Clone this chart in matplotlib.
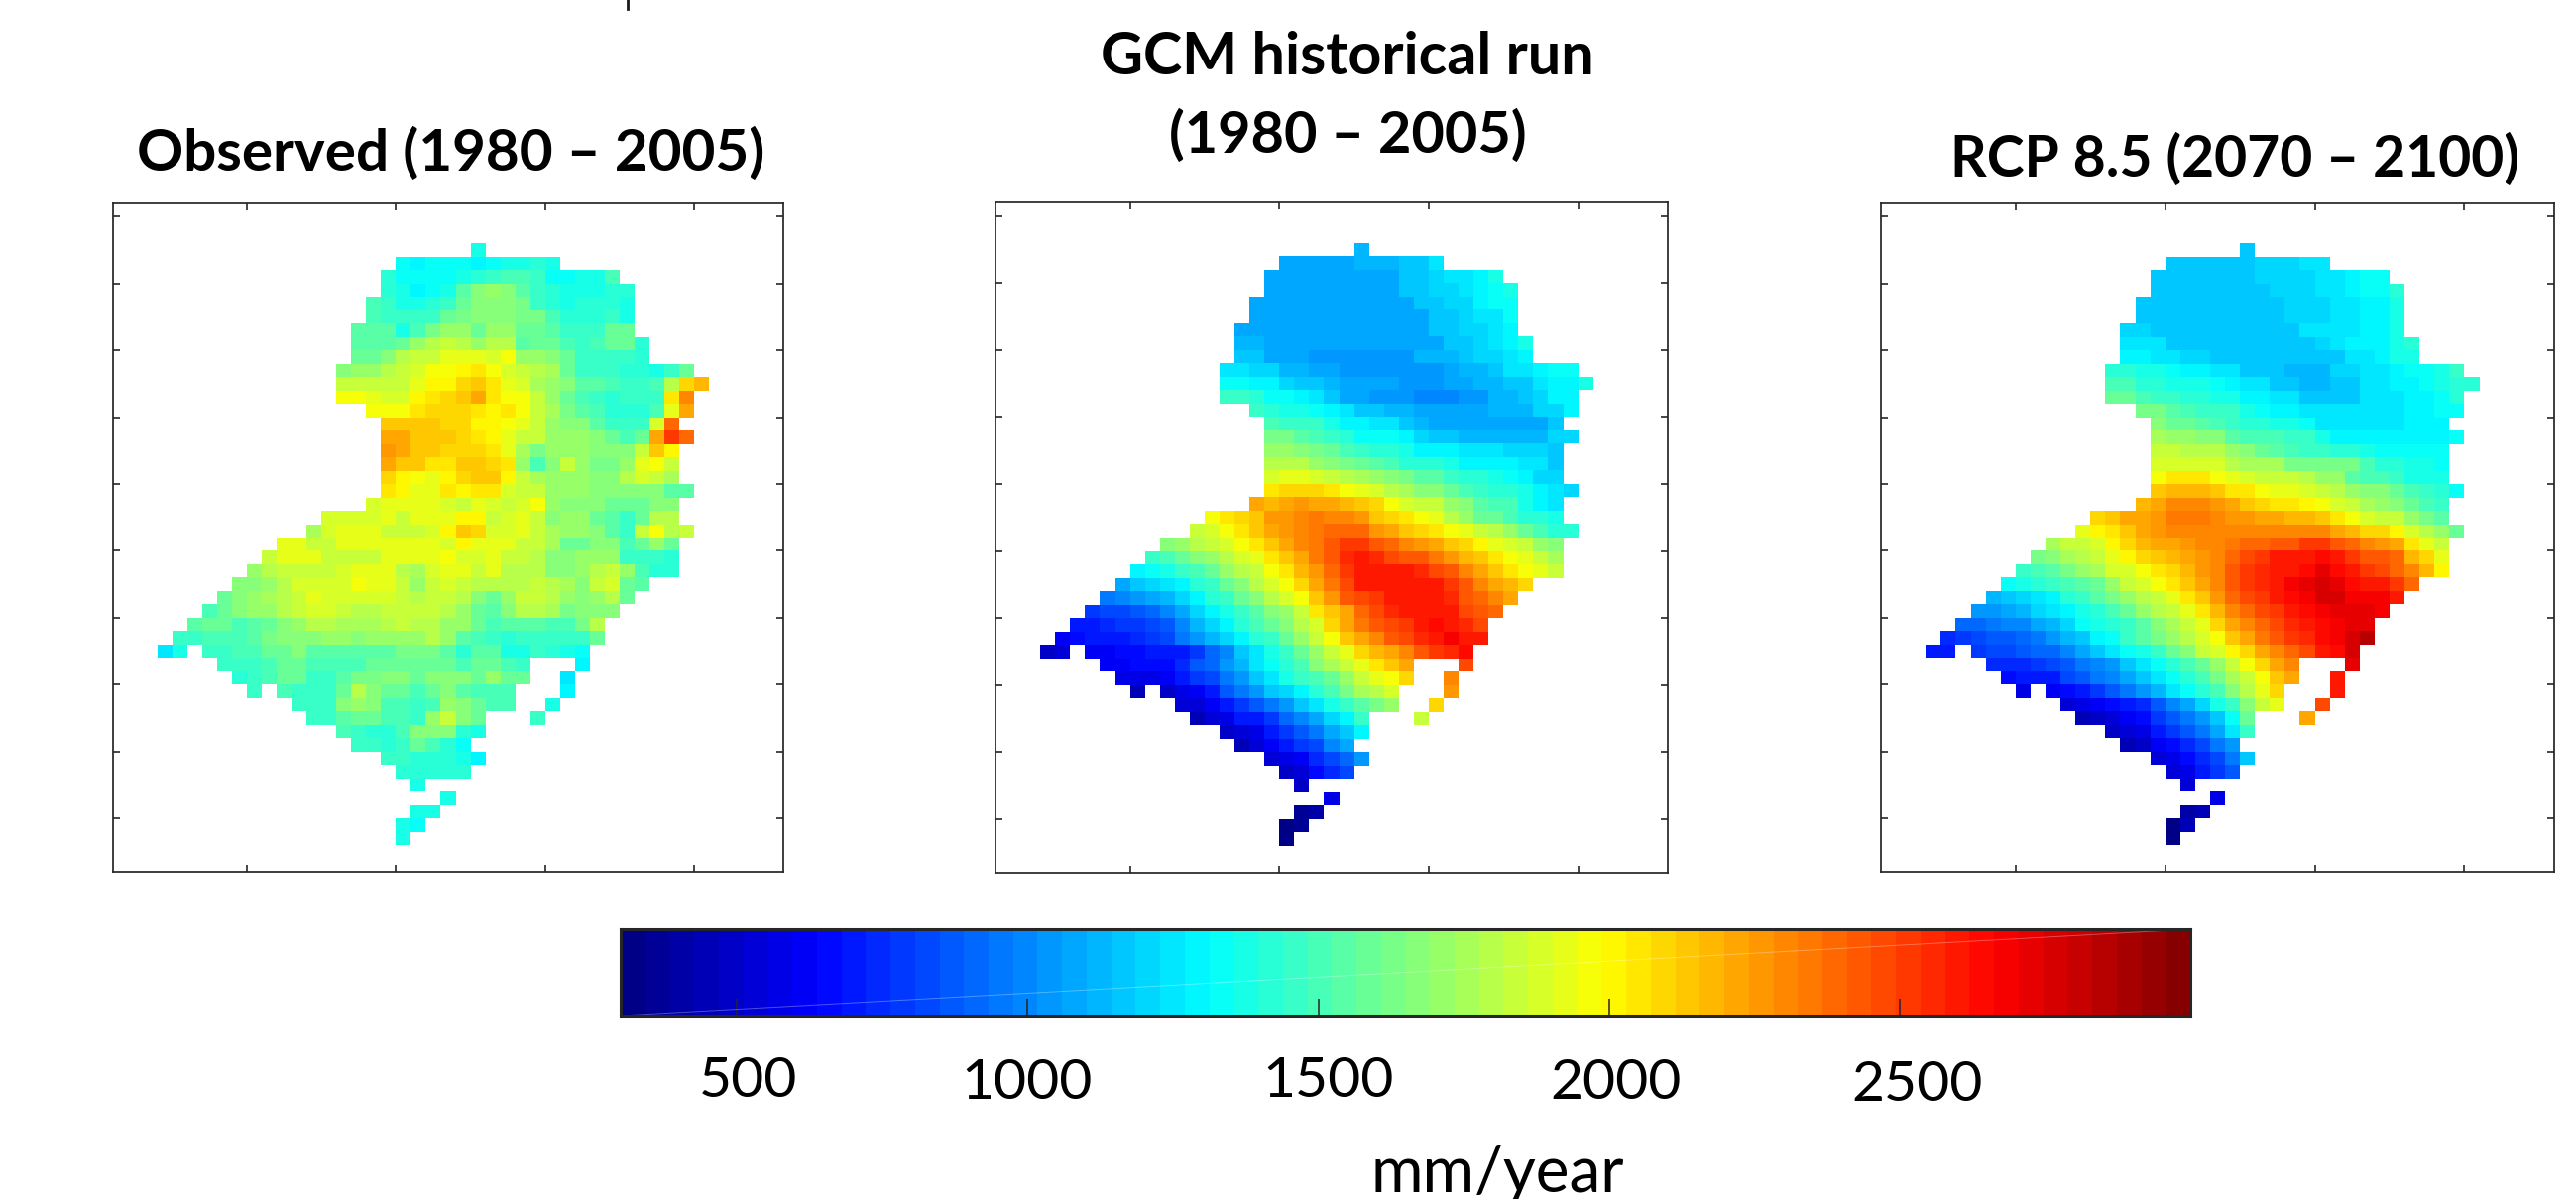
import numpy as np
import matplotlib
matplotlib.use('Agg')
import matplotlib.pyplot as plt
from matplotlib.colors import ListedColormap
from matplotlib.lines import Line2D

plt.rcParams['font.family'] = ['Lato', 'DejaVu Sans']

W, H = 2598, 1209
n = None

#%% data: rainfall in tens of mm/year, one list per grid row, starting at row 3
first_col = [24,19,18,18,17,17,16,16,16,15,15,15,17,18,18,18,18,18,18,17,14,13,11,10,9,8,7,6,5,4,3,7,8,9,12,13,15,16,18,19,20,22,20,19,19]

observed = [
[139],
[132,131,133,134,133,131,133,136,139,140,137],
[140,133,132,132,133,136,140,145,152,152,146,134,133,137,138,152],
[140,136,131,134,139,155,165,172,165,155,148,141,136,136,138,142,143],
[152,145,138,138,141,146,160,166,166,166,163,148,142,138,143,143,143,137],
[152,148,146,146,146,158,164,166,166,166,163,163,150,143,142,142,148,139],
[154,154,154,139,150,163,170,170,160,172,172,158,158,154,148,146,146,158,158],
[154,154,154,160,172,178,184,178,172,180,180,154,160,160,150,145,152,160,160,143],
[160,160,165,178,185,185,193,193,193,188,195,170,170,168,160,148,147,147,147,140],
[165,172,172,178,186,190,196,196,200,206,196,188,186,178,174,160,148,147,147,140,140,136,146,160],
[186,186,186,186,186,194,200,200,211,215,206,194,190,176,172,166,155,155,150,145,145,150,180,208,217],
[198,198,194,190,190,200,206,208,215,220,206,196,196,182,172,160,150,144,140,145,145,146,206,232],
[198,198,198,205,210,210,210,206,200,205,196,184,176,163,155,150,143,140,140,152,192,224],
[213,213,213,213,208,208,200,200,198,192,186,170,168,168,155,148,148,148,188,240],
[222,222,213,213,212,210,205,199,192,186,183,170,170,170,165,158,152,160,224,253,240],
[228,224,213,213,208,208,208,204,192,176,162,173,173,170,165,165,165,184,215,202],
[222,215,212,206,206,212,212,208,204,172,152,165,182,170,164,164,172,192,196,185],
[208,202,198,194,199,208,213,213,202,186,176,172,172,172,165,165,178,188,184,176],
[206,200,194,192,204,199,206,206,188,184,184,170,170,170,165,165,165,165,165,155,155],
[188,194,194,194,194,188,184,194,188,184,190,196,170,165,165,165,160,160,160,168,168],
[188,188,188,188,194,186,192,192,193,200,200,182,188,193,186,168,170,170,160,155,147,160,180,180],
[174,190,192,192,192,186,184,184,188,200,215,208,188,188,194,186,176,170,170,168,155,148,182,196,180,186],
[194,194,184,184,192,192,192,192,192,192,192,190,200,192,192,192,186,184,174,157,157,165,165,150,160,170,158],
[186,194,194,194,186,186,186,186,193,193,193,193,198,190,190,192,184,182,178,168,165,172,172,170,148,146,144,140],
[172,178,184,186,186,182,188,194,194,194,180,176,188,192,192,186,194,178,178,178,168,165,172,178,182,172,150,143,143],
[165,168,173,180,188,188,188,188,196,192,192,184,172,186,190,184,180,180,178,178,186,178,175,165,182,190,160,155],
[160,165,170,174,178,186,192,188,190,190,190,190,184,180,186,186,178,165,160,170,184,186,178,172,165,172,180,160],
[150,160,166,170,172,178,184,190,190,184,178,178,184,184,186,182,180,172,160,155,165,178,178,174,162,168,168,168],
[155,158,160,152,154,158,168,170,178,178,176,176,176,180,186,180,180,172,170,158,152,155,155,155,150,150,162,178],
[144,144,150,152,152,156,162,165,165,165,170,172,165,172,172,172,172,178,170,155,150,148,143,148,148,148,148,148,160],
[127,136,n,145,148,152,152,158,158,165,156,156,156,156,156,156,162,162,162,155,142,155,155,138,138,144,140,136,134],
[146,148,148,152,160,160,152,152,152,152,160,160,160,160,160,160,152,160,160,150,144,n,n,n,131],
[143,146,152,160,160,145,145,156,162,162,168,168,160,168,168,168,158,170,158,158,n,n,125],
[146,n,150,146,146,146,160,178,165,157,157,150,160,165,155,150,150,150,n,n,n,128],
[146,146,146,165,172,165,150,150,145,152,172,165,158,152,152,n,n,137],
[146,146,155,160,160,152,152,148,172,186,165,158,n,n,n,147],
[152,148,143,143,150,165,165,165,142,138],
[148,148,140,148,158,150,142,135],
[148,148,141,141,141,136,130],
[142,140,140,143,143],
[138],
[138],
[136,136],
[136,134],
[137],
]

gcm_hist = [
[111],
[107,107,107,107,107,111,111,111,117,117,123],
[107,107,107,107,107,107,107,110,110,115,115,120,127,127,131,137],
[107,107,107,107,107,107,107,110,110,115,115,120,122,126,131,133,136],
[107,107,107,107,107,107,107,107,110,110,110,117,117,122,122,128,132,135],
[107,107,107,107,107,107,107,107,107,109,109,109,117,117,122,127,127,132],
[109,106,106,106,106,106,106,106,106,106,108,108,108,115,115,120,120,127,131],
[112,112,106,106,106,106,106,106,106,106,106,110,110,110,115,115,119,126,130,136],
[116,116,110,110,110,105,105,105,105,105,105,105,111,111,111,115,121,121,124,129],
[126,126,122,122,113,113,107,107,104,104,104,104,104,104,104,106,112,112,118,125,125,131,134,134],
[135,135,130,130,122,118,118,112,107,107,107,107,102,102,102,106,106,113,113,118,118,124,130,130,136],
[146,146,140,135,135,130,124,115,110,110,104,104,104,100,100,100,104,104,111,111,116,122,128,128],
[148,142,138,138,134,130,126,118,118,112,112,108,108,108,108,108,112,112,113,120,120,128],
[152,145,145,145,138,130,130,123,123,116,112,108,108,107,107,107,110,110,110,115],
[162,162,155,152,146,140,135,133,133,130,122,118,118,112,112,112,112,112,112,122,122],
[172,172,166,162,158,152,148,143,143,139,130,130,130,126,126,126,120,120,120,118],
[178,178,178,172,168,163,160,155,150,143,140,140,136,131,131,130,130,123,123,118],
[190,194,194,190,186,180,176,172,168,163,154,154,148,142,142,136,133,128,122,122],
[206,210,210,210,203,198,192,188,180,176,168,168,160,150,145,140,140,136,128,125,120],
[220,218,223,226,222,222,218,212,208,198,190,182,182,172,165,155,150,150,139,130,127],
[198,204,210,215,225,228,232,234,231,231,226,214,210,203,198,192,180,172,160,160,150,140,140,136],
[186,190,198,205,215,220,228,232,234,240,240,240,228,222,214,210,205,198,192,184,178,170,160,150,143,140],
[165,170,178,182,190,195,205,215,222,230,234,242,250,250,244,240,232,228,220,215,208,202,192,190,182,172,165],
[148,152,160,165,172,180,188,194,204,212,220,234,244,254,260,254,248,242,242,236,228,218,213,205,198,192,182,176],
[130,135,138,148,152,160,170,178,186,196,205,218,226,240,252,262,258,258,258,254,248,242,232,222,214,206,198,192,182],
[110,116,122,124,130,140,148,158,165,178,190,196,208,220,235,248,258,258,258,258,258,258,252,242,232,222,218,208],
[95,100,105,107,112,120,130,140,148,158,168,178,188,198,212,226,242,248,252,258,258,258,258,256,244,240,232,222],
[78,82,84,88,92,98,110,120,130,138,148,155,165,172,186,205,215,224,240,248,255,260,260,260,260,248,245,240],
[68,72,76,78,80,84,88,100,112,122,130,142,150,158,168,178,190,208,222,234,244,248,252,262,266,262,255,248],
[62,66,70,70,72,75,80,82,95,105,112,122,130,140,148,158,170,184,198,213,224,232,242,248,256,260,268,260,260],
[50,52,n,62,62,65,65,68,68,72,80,90,100,115,125,138,148,158,172,182,192,208,216,224,232,244,250,256,264],
[62,62,65,65,65,75,85,92,102,112,124,134,142,152,165,175,182,192,206,214,222,n,n,n,248],
[56,56,58,60,68,78,84,95,105,118,126,136,145,152,160,172,182,192,198,208,n,n,232],
[45,n,50,58,62,72,85,94,104,116,122,130,140,152,164,174,180,188,n,n,n,226],
[52,54,60,68,78,85,96,104,116,124,136,144,155,164,172,n,n,208],
[46,55,58,68,72,80,92,98,108,122,131,146,n,n,n,186],
[48,52,58,72,78,85,95,108,118,130],
[45,54,60,70,78,84,98,106],
[52,56,62,74,82,92,104],
[50,55,64,76,84],
[50],
[56],
[37,42],
[32,36],
[32],
]

rcp85 = [
[117],
[118,118,118,118,118,118,122,122,122,127,127],
[118,118,118,118,118,118,118,121,121,121,121,126,126,131,134,134],
[118,118,118,118,118,118,118,118,122,122,122,126,126,129,132,132,140],
[118,118,118,118,118,118,118,118,118,118,122,122,122,124,126,131,131,137],
[118,118,118,118,118,118,118,118,118,118,122,122,122,123,126,131,131,136],
[122,122,117,117,117,117,117,117,117,117,117,117,123,123,123,126,131,131,136],
[123,123,123,117,117,117,117,117,117,117,117,117,117,122,124,129,129,131,136,142],
[131,131,126,126,122,122,115,115,115,115,115,115,115,115,118,127,127,130,136,136],
[142,142,138,138,135,131,131,126,126,118,118,118,114,114,114,120,120,126,126,130,134,134,138,144],
[150,150,142,142,138,136,136,132,128,124,124,118,118,112,112,118,118,124,124,131,130,135,137,140,142],
[160,160,152,148,146,140,140,138,136,131,131,124,124,118,118,118,118,124,124,127,131,131,135,140],
[162,162,155,150,146,146,144,138,135,130,130,124,124,124,124,124,124,124,130,130,134,134],
[165,160,160,155,150,145,142,142,136,136,132,124,124,124,124,124,124,129,129,129],
[175,172,172,165,165,155,150,150,150,144,144,138,130,130,129,129,129,129,129,129,135],
[185,185,178,178,178,172,165,160,155,150,148,148,142,142,138,134,134,134,134,134],
[190,190,190,190,190,178,176,176,176,163,163,163,163,163,150,142,142,138,138,135],
[198,203,203,203,198,192,188,184,182,182,178,172,170,156,150,150,144,139,136,136],
[212,216,216,216,212,206,203,198,194,194,190,186,178,172,166,166,158,150,146,142,134],
[218,224,232,232,232,226,220,214,210,206,206,200,196,188,182,176,170,168,158,150,146],
[208,212,220,224,228,236,236,236,230,226,226,220,220,216,216,212,206,198,190,186,182,170,164,155],
[192,200,207,214,220,226,232,232,232,232,232,232,232,232,232,232,232,222,216,210,208,200,190,180,172,160],
[176,182,186,190,200,208,218,220,222,228,230,230,236,240,240,245,245,250,250,245,238,230,226,222,206,192,182],
[162,166,174,178,186,194,202,208,212,218,222,226,230,240,246,252,258,262,262,264,260,252,245,245,238,216,208,192],
[148,152,155,162,170,176,188,190,198,206,210,218,226,232,242,250,254,258,262,266,272,266,262,250,248,240,232,216,200],
[132,138,140,146,152,156,160,172,184,190,195,206,213,222,232,243,250,256,262,268,274,276,274,266,260,260,250,240],
[113,118,122,125,131,142,148,156,164,170,178,186,194,206,214,226,240,248,252,260,264,270,275,275,267,267,267,260],
[102,105,110,113,120,125,130,136,142,150,160,170,178,184,192,206,216,232,240,248,252,258,266,270,273,273,273,268],
[90,92,96,100,100,106,112,122,132,137,142,148,156,166,176,184,192,208,222,232,240,248,254,258,266,270,274,274],
[76,80,84,86,86,90,96,102,112,118,130,135,145,155,163,172,180,188,198,215,222,234,244,252,256,264,270,275,284],
[72,72,n,80,82,82,85,90,92,100,108,115,125,133,139,147,158,168,182,190,200,210,220,230,240,246,258,266,276],
[74,74,75,80,84,88,94,98,104,118,125,133,142,150,160,170,186,195,210,222,232,n,n,n,272],
[64,68,70,72,82,88,95,100,110,118,125,135,140,150,162,174,186,198,212,224,n,n,258],
[56,n,60,64,70,78,85,95,102,113,123,132,142,152,168,180,192,208,n,n,n,258],
[55,57,60,64,70,76,88,98,106,122,136,148,168,184,194,n,n,246],
[45,48,54,60,66,78,86,95,105,115,134,158,n,n,n,224],
[50,54,58,72,78,86,96,108,124,145],
[46,48,62,66,76,84,95,105],
[52,58,66,76,84,96,116],
[54,58,70,78,88],
[52],
[56],
[40,46],
[34,44],
[32],
]

cbar_ticks = [500, 1000, 1500, 2000, 2500]
vmin, vmax = 300, 3000


def to_grid(rows):
    g = np.full((50, 45), np.nan)
    for i, row in enumerate(rows):
        for j, v in enumerate(row):
            if v is not None:
                g[i + 3, first_col[i] + j] = v * 10
    return g


def px_axes(x0, x1, y0, y1):
    return fig.add_axes([x0 / W, 1 - y1 / H, (x1 - x0) / W, (y1 - y0) / H])


def px_text(x, y, s, **kw):
    fig.text(x / W, 1 - y / H, s, ha='center', va='baseline', color='black', **kw)


def matlab_jet(size):
    # matplotlib's jet is not quite MATLAB's, the picture has MATLAB's
    t = (np.arange(size) + 0.5) / size
    r = np.clip(np.minimum(4 * t - 1.5, -4 * t + 4.5), 0, 1)
    g = np.clip(np.minimum(4 * t - 0.5, -4 * t + 3.5), 0, 1)
    b = np.clip(np.minimum(4 * t + 0.5, -4 * t + 2.5), 0, 1)
    return ListedColormap(np.column_stack([r, g, b]))


#%% figure
fig = plt.figure(figsize=(W / 100, H / 100), dpi=100)
cmap = matlab_jet(64)
dark = '#262626'

boxes = [(114, 790, 205, 879), (1004, 1682, 204, 880), (1897, 2576, 205, 879)]
for box, rows in zip(boxes, [observed, gcm_hist, rcp85]):
    ax = px_axes(*box)
    ax.pcolormesh(np.arange(46), np.arange(51), np.ma.masked_invalid(to_grid(rows)),
                  cmap=cmap, vmin=vmin, vmax=vmax, edgecolors='none', antialiased=False)
    ax.set_xlim(0, 45)
    ax.set_ylim(50, 0)
    ax.set_xticks([9, 19, 29, 39])
    ax.set_yticks([1, 6, 11, 16, 21, 26, 31, 36, 41, 46])
    ax.tick_params(direction='in', top=True, right=True, length=5, width=1.2, color=dark,
                   labelbottom=False, labelleft=False)
    for s in ax.spines.values():
        s.set_linewidth(1.25)
        s.set_color(dark)

# colour bar
cax = px_axes(626, 2209, 937, 1024)
levels = np.linspace(vmin, vmax, 65)
cax.pcolormesh(levels, [0, 1], levels[:-1].reshape(1, -1), cmap=cmap, vmin=vmin, vmax=vmax,
               edgecolors='none', antialiased=False)
cax.plot([vmin, vmax], [0, 1], color='white', lw=0.7, alpha=0.3)
cax.set_xlim(vmin, vmax)
cax.set_ylim(0, 1)
cax.set_yticks([])
cax.set_xticks(cbar_ticks)
cax.tick_params(axis='x', direction='in', length=12, width=1.1, color=dark, labelbottom=False)
for s in cax.spines.values():
    s.set_linewidth(2.2)
    s.set_color(dark)

# labels sit a little off their ticks in the original
label_x = [755, 1036, 1340, 1630, 1934]
label_y = [1106, 1108, 1106, 1108, 1110]
for t, x, y in zip(cbar_ticks, label_x, label_y):
    px_text(x, y, str(t), fontsize=41)
px_text(1510, 1202, 'mm/year', fontsize=46)

px_text(455, 172, 'Observed (1980 – 2005)', fontsize=42, fontweight='bold')
px_text(1359, 75, 'GCM historical run', fontsize=42.7, fontweight='bold')
px_text(1359, 154, '(1980 – 2005)', fontsize=41.5, fontweight='bold')
px_text(2254, 178, 'RCP 8.5 (2070 – 2100)', fontsize=41, fontweight='bold')

fig.add_artist(Line2D([633 / W, 633 / W], [1, 1 - 9 / H], color='#1a1a1a', lw=2))

fig.savefig('out.png', dpi=100)
